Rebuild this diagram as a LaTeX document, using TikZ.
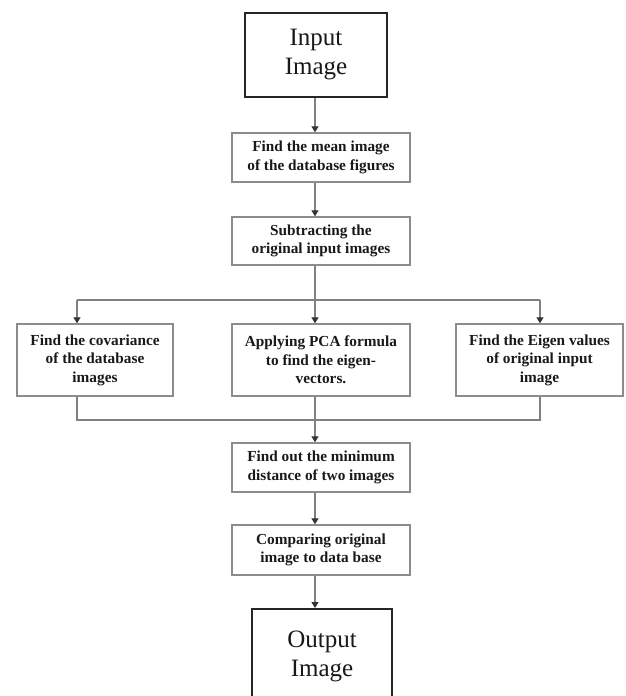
\documentclass[tikz,border=0pt]{standalone}
\usepackage{fontspec}
\setmainfont{Liberation Serif}
\usetikzlibrary{arrows.meta}
\definecolor{lin}{RGB}{128,128,128}
\definecolor{bord}{RGB}{140,140,140}
\tikzset{
  procbox/.style={draw=bord, line width=1.4pt, rectangle, align=center, inner sep=0pt,
    font=\fontsize{15.3}{18.5}\selectfont\bfseries, text=black!90},
  termbox/.style={draw=black!85, line width=2pt, rectangle, align=center, inner sep=0pt,
    font=\fontsize{25}{29}\selectfont, text=black!90},
  conn/.style={draw=lin, line width=1.3pt},
  arr/.style={conn, -{Triangle[length=6pt,width=7pt,color=black!80]}}
}
\begin{document}
\begin{tikzpicture}[x=1pt,y=-1pt]
\useasboundingbox (0,0) rectangle (626,696);
\fill[white] (0,0) rectangle (626,696);
\node[termbox, minimum width=142pt, minimum height=84pt] (in) at (316,55) {Input\\Image};
\node[procbox, minimum width=178pt, minimum height=49pt] (mean) at (321,157.5) {Find the mean image\\of the database figures};
\node[procbox, minimum width=178pt, minimum height=48pt] (sub) at (321,241) {Subtracting the\\original input images};
\node[procbox, minimum width=156pt, minimum height=72pt] (cov) at (95,360) {Find the covariance\\of the database\\images};
\node[procbox, minimum width=178pt, minimum height=72pt] (pca) at (321,360) {Applying PCA formula\\to find the eigen-\\vectors.};
\node[procbox, minimum width=167pt, minimum height=72pt] (eig) at (539.5,360) {Find the Eigen values\\of original input\\image};
\node[procbox, minimum width=178pt, minimum height=49pt] (min) at (321,467.5) {Find out the minimum\\distance of two images};
\node[procbox, minimum width=178pt, minimum height=50pt] (cmp) at (321,550) {Comparing original\\image to data base};
\node[termbox, minimum width=140pt, minimum height=94pt] (out) at (322,656) {Output\\Image};
\coordinate (ax) at (315,0);
\coordinate (split) at (315,300);
\coordinate (sl) at (77,300);
\coordinate (sr) at (540,300);
\coordinate (merge) at (315,420);
\coordinate (ml) at (77,420);
\coordinate (mr) at (540,420);
% main spine
\draw[arr] (ax |- in.south) -- (ax |- mean.north);
\draw[arr] (ax |- mean.south) -- (ax |- sub.north);
\draw[conn] (ax |- sub.south) -- (split);
\draw[conn] (sl) -- (sr);
\draw[arr] (sl) -- (sl |- cov.north);
\draw[arr] (split) -- (ax |- pca.north);
\draw[arr] (sr) -- (sr |- eig.north);
\draw[conn] (sl |- cov.south) -- (ml) -- (mr) -- (sr |- eig.south);
\draw[arr] (ax |- pca.south) -- (ax |- min.north);
\draw[arr] (ax |- min.south) -- (ax |- cmp.north);
\draw[arr] (ax |- cmp.south) -- (ax |- out.north);
\end{tikzpicture}
\end{document}
